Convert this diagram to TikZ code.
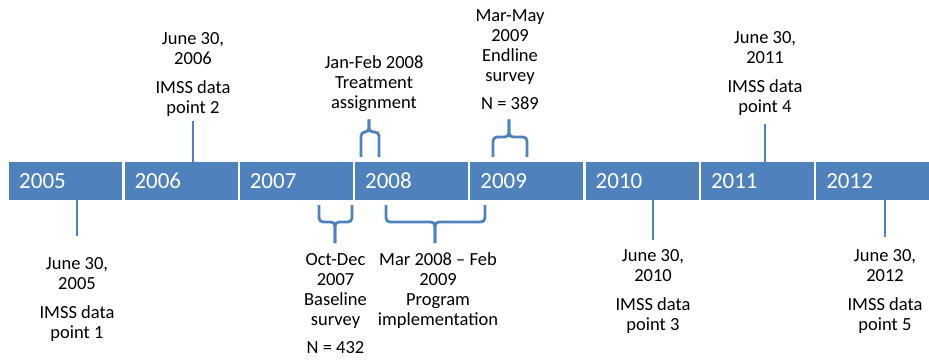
\documentclass[tikz,border=0pt]{standalone}
\usepackage{fontspec}
\setmainfont{Carlito}
\definecolor{barblue}{HTML}{4F81BD}
\begin{document}
\begin{tikzpicture}[x=1pt, y=-1pt,
    year/.style={fill=barblue, text=white, minimum height=38pt, inner ysep=0pt,
        inner xsep=10pt, text width=93pt, align=left, font=\fontsize{23}{27}\selectfont},
    event/.style={align=center, inner sep=0pt, font=\fontsize{18.5}{20}\selectfont},
    link/.style={draw=barblue, line width=2.8pt},
    brace/.style={link, rounded corners=4pt}]
    \useasboundingbox (0, 0) rectangle (929, 362);

    \node[year] (y2005) at (65.7, 181) {2005};
    \node[year] (y2006) at (181.0, 181) {2006};
    \node[year] (y2007) at (296.3, 181) {2007};
    \node[year] (y2008) at (411.6, 181) {2008};
    \node[year] (y2009) at (526.9, 181) {2009};
    \node[year] (y2010) at (642.2, 181) {2010};
    \node[year] (y2011) at (757.5, 181) {2011};
    \node[year] (y2012) at (872.8, 181) {2012};

    \node[event, anchor=north] (lbl2005) at (77, 257) {June 30,\\2005\\[9pt]IMSS data\\point 1};
    \node[event, anchor=north] (lbl2006) at (193, 32) {June 30,\\2006\\[9pt]IMSS data\\point 2};
    \node[event, anchor=north] (lbl2010) at (653, 249) {June 30,\\2010\\[9pt]IMSS data\\point 3};
    \node[event, anchor=north] (lbl2011) at (765, 31) {June 30,\\2011\\[9pt]IMSS data\\point 4};
    \node[event, anchor=north] (lbl2012) at (885, 249) {June 30,\\2012\\[9pt]IMSS data\\point 5};

    \node[event, anchor=north] (lblAssign) at (374, 55) {Jan-Feb 2008\\Treatment\\assignment};
    \node[event, anchor=north] (lblEndline) at (510, 9) {Mar-May\\2009\\Endline\\survey\\[8pt]N = 389};
    \node[event, anchor=north] (lblBaseline) at (335.5, 253) {Oct-Dec\\2007\\Baseline\\survey\\[8pt]N = 432};
    \node[event, anchor=north] (lblProgram) at (438, 252) {Mar 2008 \textendash{} Feb\\2009\\Program\\implementation};

    \draw[link, shorten >=21pt] (lbl2005.north |- y2005.south) -- (lbl2005.north);
    \draw[link, shorten <=5pt] (lbl2006.south) -- (lbl2006.south |- y2006.north);
    \draw[link, shorten >=9pt] (lbl2010.north |- y2010.south) -- (lbl2010.north);
    \draw[link, shorten <=9pt] (lbl2011.south) -- (lbl2011.south |- y2011.north);
    \draw[link, shorten >=12pt] (lbl2012.north |- y2012.south) -- (lbl2012.north);

    \coordinate (assignL) at (361, 157);
    \coordinate (assignM) at (369, 132);
    \coordinate (assignR) at (379, 157);
    \draw[brace, shorten >=8pt] (assignL) |- (assignM) -- (assignM |- lblAssign.south);
    \draw[brace, shorten >=8pt] (assignR) |- (assignM) -- (assignM |- lblAssign.south);

    \coordinate (endL) at (493, 157);
    \coordinate (endM) at (509, 137);
    \coordinate (endR) at (527, 157);
    \draw[brace, shorten >=10pt] (endL) |- (endM) -- (endM |- lblEndline.south);
    \draw[brace, shorten >=10pt] (endR) |- (endM) -- (endM |- lblEndline.south);

    \coordinate (baseL) at (319, 205);
    \coordinate (baseM) at (335, 222);
    \coordinate (baseR) at (352, 205);
    \draw[brace, shorten >=10pt] (baseL) |- (baseM) -- (baseM |- lblBaseline.north);
    \draw[brace, shorten >=10pt] (baseR) |- (baseM) -- (baseM |- lblBaseline.north);

    \coordinate (progL) at (386, 205);
    \coordinate (progM) at (435, 222);
    \coordinate (progR) at (485, 205);
    \draw[brace, shorten >=9pt] (progL) |- (progM) -- (progM |- lblProgram.north);
    \draw[brace, shorten >=9pt] (progR) |- (progM) -- (progM |- lblProgram.north);
\end{tikzpicture}
\end{document}
